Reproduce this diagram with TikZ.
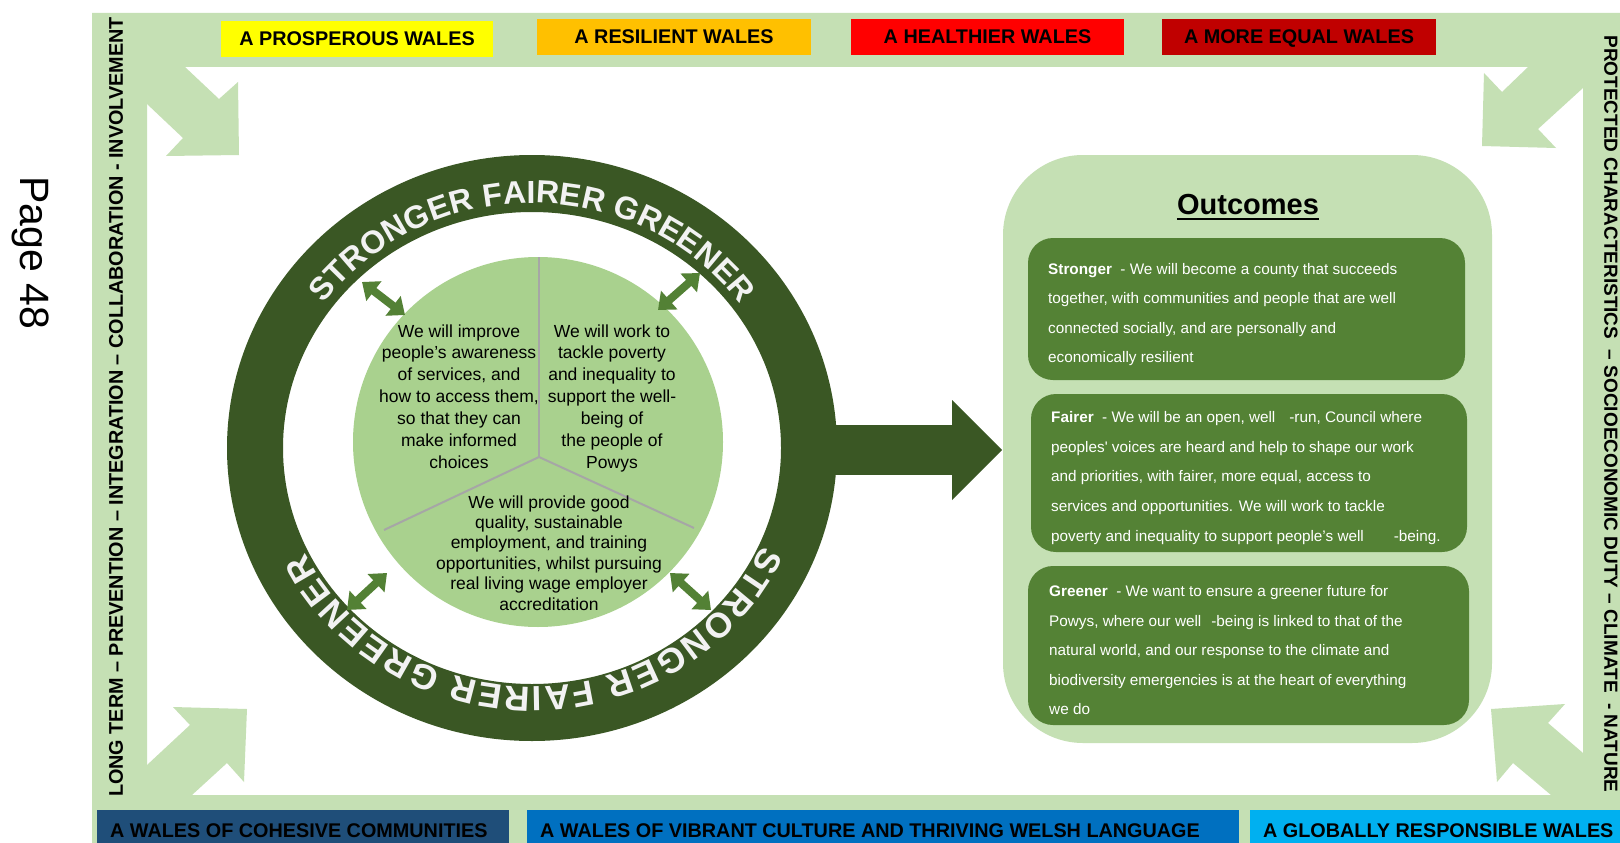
\documentclass[tikz,border=0pt]{standalone}
\usepackage{fontspec}
\setmainfont{Liberation Sans}
\usetikzlibrary{arrows.meta,decorations.text}
\definecolor{frameg}{HTML}{C5E0B4}
\definecolor{bYellow}{HTML}{FFFF00}
\definecolor{bOrange}{HTML}{FFC000}
\definecolor{bRed}{HTML}{FF0000}
\definecolor{bDarkRed}{HTML}{C00000}
\definecolor{bNavy}{HTML}{1F4E79}
\definecolor{bBlue}{HTML}{0070C0}
\definecolor{bCyan}{HTML}{00B0F0}
\definecolor{ringgreen}{HTML}{3A5724}
\definecolor{diskgreen}{HTML}{A9D18E}
\definecolor{arrowgreen}{HTML}{538135}
\definecolor{boxgreen}{HTML}{548235}
\definecolor{ringtext}{HTML}{F2F2F2}
\definecolor{divgray}{HTML}{A6A6A6}
\newcommand{\bannerfont}{\fontsize{19.8}{20}\selectfont\bfseries}
\newcommand{\leftfont}{\fontsize{19.8}{21}\selectfont\bfseries}
\newcommand{\rightfont}{\fontsize{19}{20}\selectfont\bfseries}
\newcommand{\ringfont}{\fontsize{32}{33}\selectfont\bfseries}
\newcommand{\ringfontb}{\fontsize{35}{36}\selectfont\bfseries}
\newcommand{\circfont}{\fontsize{17.5}{18}\selectfont}
\newcommand{\outfont}{\fontsize{15.3}{16}\selectfont}
\begin{document}
\begin{tikzpicture}[x=1pt,y=-1pt,
  topban/.style={minimum height=36pt, inner sep=0pt, text height=13.8pt, text depth=0pt, font=\bannerfont},
  bantext/.style={anchor=base west, inner sep=0pt, font=\bannerfont},
  sidetext/.style={inner sep=0pt},
  circtext/.style={anchor=base, inner sep=0pt, font=\circfont},
  outtext/.style={anchor=base west, inner sep=0pt, font=\outfont, text=white},
  obox/.style={fill=boxgreen, rounded corners=25pt},
  cornerarrow/.style={fill=frameg},
  dblarrow/.style={draw=arrowgreen, line width=8pt, {Triangle[length=15pt,width=24pt]}-{Triangle[length=15pt,width=24pt]}},
  divider/.style={draw=divgray, line width=2pt}
]
\useasboundingbox (0,0) rectangle (1620,843);
\fill[white] (0,0) rectangle (1620,843);

% frame
\fill[frameg, even odd rule] (92,13) rectangle (1640,860) (147,67) rectangle (1583,795);

% corner arrows
\fill[cornerarrow] (147,67) -- (185,67) -- (219,99) -- (238,82) -- (239,155) -- (166,156) -- (183,138) -- (147,104) -- cycle;
\fill[cornerarrow] (1583,67) -- (1528,67) -- (1502,92) -- (1484,73) -- (1482,146) -- (1556,148) -- (1538,129) -- (1583,88) -- cycle;
\fill[cornerarrow] (147,795) -- (147,765) -- (190,725) -- (173,707) -- (247,709) -- (244,782) -- (227,763) -- (192,795) -- cycle;
\fill[cornerarrow] (1583,795) -- (1551,795) -- (1513,763) -- (1497,782) -- (1491,709) -- (1565,704) -- (1548,723) -- (1583,753) -- cycle;

% top banners
\node[topban, fill=bYellow, minimum width=272pt] (t1) at (357,39) {A PROSPEROUS WALES};
\node[topban, fill=bOrange, minimum width=274pt] (t2) at (674,37) {A RESILIENT WALES};
\node[topban, fill=bRed, minimum width=273pt] (t3) at (987.5,37) {A HEALTHIER WALES};
\node[topban, fill=bDarkRed, minimum width=274pt] (t4) at (1299,37) {A MORE EQUAL WALES};

% bottom banners
\fill[bNavy] (97,810) rectangle (509,850);
\fill[bBlue] (527,810) rectangle (1239,850);
\fill[bCyan] (1250,810) rectangle (1640,850);
\node[bantext] (b1) at (110,837) {A WALES OF COHESIVE COMMUNITIES};
\node[bantext] (b2) at (540,837) {A WALES OF VIBRANT CULTURE AND THRIVING WELSH LANGUAGE};
\node[bantext] (b3) at (1263,837) {A GLOBALLY RESPONSIBLE WALES};

% side texts
\node[sidetext, rotate=90, font=\leftfont] (ls) at (116,407) {LONG TERM – PREVENTION – INTEGRATION – COLLABORATION - INVOLVEMENT};
\node[sidetext, rotate=-90, font=\rightfont] (rs) at (1611,414) {PROTECTED CHARACTERISTICS \ – SOCIOECONOMIC DUTY – CLIMATE \ - NATURE};
\node[inner sep=0pt, rotate=-90, font=\fontsize{41}{42}\selectfont] (pg) at (31,253) {Page 48};

% ring
\fill[ringgreen] (800,425) rectangle (952,475);
\fill[ringgreen] (952,400) -- (1002,450) -- (952,500) -- cycle;
\begin{scope}[shift={(532,448)}, x=1pt, y=1pt]
  \fill[ringgreen, even odd rule] (0,0) ellipse [x radius=305pt, y radius=293pt] (0,0) ellipse [x radius=249pt, y radius=236pt];
  \path[decorate, decoration={text along path, text color=ringtext, text align={fit to path}, text={|\ringfont|STRONGER FAIRER GREENER}}]
    (144:257pt and 245pt) arc [start angle=144, end angle=36, x radius=257pt, y radius=245pt];
  \path[decorate, decoration={text along path, text color=ringtext, text align={fit to path}, text={|\ringfontb|STRONGER FAIRER GREENER}}]
    (-24:252pt and 239pt) arc [start angle=-24, end angle=-154, x radius=252pt, y radius=239pt];
\end{scope}

% inner disk
\fill[diskgreen] (538,442) circle [radius=185pt];
\coordinate (vtx) at (539,457);
\coordinate (dtop) at (539,257);
\coordinate (dleft) at (384,530);
\coordinate (dright) at (694,528);
\draw[divider] (vtx) -- (dtop);
\draw[divider] (vtx) -- (dleft);
\draw[divider] (vtx) -- (dright);

% double arrows
\coordinate (ula) at (362,282); \coordinate (ulb) at (405,315);
\coordinate (ura) at (700,273); \coordinate (urb) at (658,310);
\coordinate (lla) at (387,573); \coordinate (llb) at (347,610);
\coordinate (lra) at (670,573); \coordinate (lrb) at (711,610);
\draw[dblarrow] (ula) -- (ulb);
\draw[dblarrow] (ura) -- (urb);
\draw[dblarrow] (lla) -- (llb);
\draw[dblarrow] (lra) -- (lrb);

% circle texts
\foreach \t [count=\i from 0] in {We will improve, people’s awareness, {of services, and}, {how to access them,}, so that they can, make informed, choices}
  \node[circtext] (cl\i) at (459,{337+21.9*\i}) {\t};
\foreach \t [count=\i from 0] in {We will work to, tackle poverty, and inequality to, support the well-, being of, the people of, Powys}
  \node[circtext] (cr\i) at (612,{337+21.9*\i}) {\t};
\foreach \t [count=\i from 0] in {We will provide good, {quality, sustainable}, {employment, and training}, {opportunities, whilst pursuing}, real living wage employer, accreditation}
  \node[circtext] (cb\i) at (549,{508+20.4*\i}) {\t};

% outcomes
\fill[frameg, rounded corners=80pt] (1003,155) rectangle (1492,743);
\node[anchor=base, inner sep=0pt, font=\fontsize{29}{30}\selectfont\bfseries] (oc) at (1248,214) {Outcomes};
\draw[line width=1.8pt] ([yshift=-5pt]oc.base west) -- ([yshift=-5pt]oc.base east);

\fill[obox] (1028,238) rectangle (1465,380);
\fill[obox] (1031,394) rectangle (1467,552);
\fill[obox] (1028,566) rectangle (1469,725);

\node[outtext] (s1) at (1048,274) {\textbf{Stronger}\ \ - We will become a county that succeeds};
\node[outtext] (s2) at (1048,303.5) {together, with communities and people that are well};
\node[outtext] (s3) at (1048,333) {connected socially, and are personally and};
\node[outtext] (s4) at (1048,362.5) {economically resilient};

\node[outtext] (f1) at (1051,422) {\textbf{Fairer}\ \ - We will be an open, well\hspace{14pt}-run, Council where};
\node[outtext] (f2) at (1051,452) {peoples\textquotesingle\ voices are heard and help to shape our work};
\node[outtext] (f3) at (1051,481.5) {and priorities, with fairer, more equal, access to};
\node[outtext] (f4) at (1051,511) {services and opportunities. We will work to tackle};
\node[outtext] (f5) at (1051,541) {poverty and inequality to support people’s well\hspace{30pt}-being.};

\node[outtext] (g1) at (1049,596) {\textbf{Greener}\ \ - We want to ensure a greener future for};
\node[outtext] (g2) at (1049,626) {Powys, where our well\hspace{10pt}-being is linked to that of the};
\node[outtext] (g3) at (1049,655) {natural world, and our response to the climate and};
\node[outtext] (g4) at (1049,685) {biodiversity emergencies is at the heart of everything};
\node[outtext] (g5) at (1049,714) {we do};
\end{tikzpicture}
\end{document}
